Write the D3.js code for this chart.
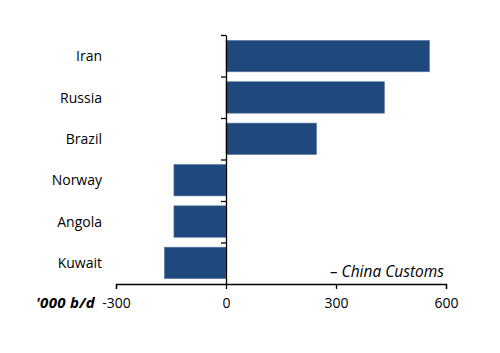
<!DOCTYPE html>
<html>
<head>
<meta charset="utf-8">
<script src="https://cdn.jsdelivr.net/npm/d3@7"></script>
<style>
  body { margin: 0; background: #fff; }
  svg text { font-family: "Open Sans", sans-serif; font-size: 14px; fill: #000; }
</style>
</head>
<body>
<div id="chart"></div>
<script>
const countries = ["Iran", "Russia", "Brazil", "Norway", "Angola", "Kuwait"];
const values = [555, 432, 247, -142, -142, -168];
const xTicks = [-300, 0, 300, 600];
const unitLabel = "'000 b/d";
const sourceLabel = "\u2013 China Customs";

const width = 500;
const height = 353;
const barColor = "#1f487c";

const svg = d3.select("#chart")
  .append("svg")
  .attr("width", width)
  .attr("height", height);

const x = d3.scaleLinear()
  .domain([-300, 600])
  .range([116, 446]);

const y = d3.scaleBand()
  .domain(countries)
  .range([35, 284])
  .paddingInner(0.24)
  .paddingOuter(0.13);

// bars
svg.selectAll(".bar")
  .data(values)
  .enter()
  .append("rect")
  .attr("class", "bar")
  .attr("x", (d) => x(Math.min(0, d)))
  .attr("y", (d, i) => y(countries[i]))
  .attr("width", (d) => Math.abs(x(d) - x(0)))
  .attr("height", y.bandwidth())
  .attr("fill", barColor)
  .attr("stroke", "#5a7aa8")
  .attr("stroke-width", 0.6);

// y axis: ticks on band boundaries
const yEdges = d3.scaleLinear()
  .domain([0, countries.length])
  .range([35, 284]);

svg.append("g")
  .attr("transform", "translate(" + x(0) + ",0)")
  .call(d3.axisLeft(yEdges)
    .tickValues(d3.range(0, countries.length))
    .tickSize(5)
    .tickSizeOuter(0)
    .tickFormat(""))
  .call((g) => g.selectAll("path, line").attr("stroke", "#000").attr("stroke-width", 1.3));

// category labels
svg.selectAll(".label")
  .data(countries)
  .enter()
  .append("text")
  .attr("class", "label")
  .attr("x", 102)
  .attr("y", (d) => y(d) + y.bandwidth() / 2)
  .attr("dy", "0.37em")
  .attr("text-anchor", "end")
  .text((d) => d);

// x axis
const xAxis = svg.append("g")
  .attr("transform", "translate(0,284)")
  .call(d3.axisBottom(x)
    .tickValues(xTicks)
    .tickSize(5)
    .tickSizeOuter(5)
    .tickPadding(9)
    .tickFormat((d) => String(d)));

xAxis.selectAll("path, line").attr("stroke", "#000").attr("stroke-width", 1.3);
xAxis.selectAll("text")
  .attr("font-family", "'Open Sans', sans-serif")
  .attr("font-size", 14)
  .attr("fill", "#000");

svg.append("text")
  .attr("x", 36)
  .attr("y", 308)
  .style("font-size", "15px")
  .style("font-weight", "bold")
  .style("font-style", "italic")
  .style("letter-spacing", "0.3px")
  .text(unitLabel);

svg.append("text")
  .attr("x", 444)
  .attr("y", 277)
  .attr("text-anchor", "end")
  .style("font-size", "15.5px")
  .style("font-style", "italic")
  .text(sourceLabel);
</script>
</body>
</html>
